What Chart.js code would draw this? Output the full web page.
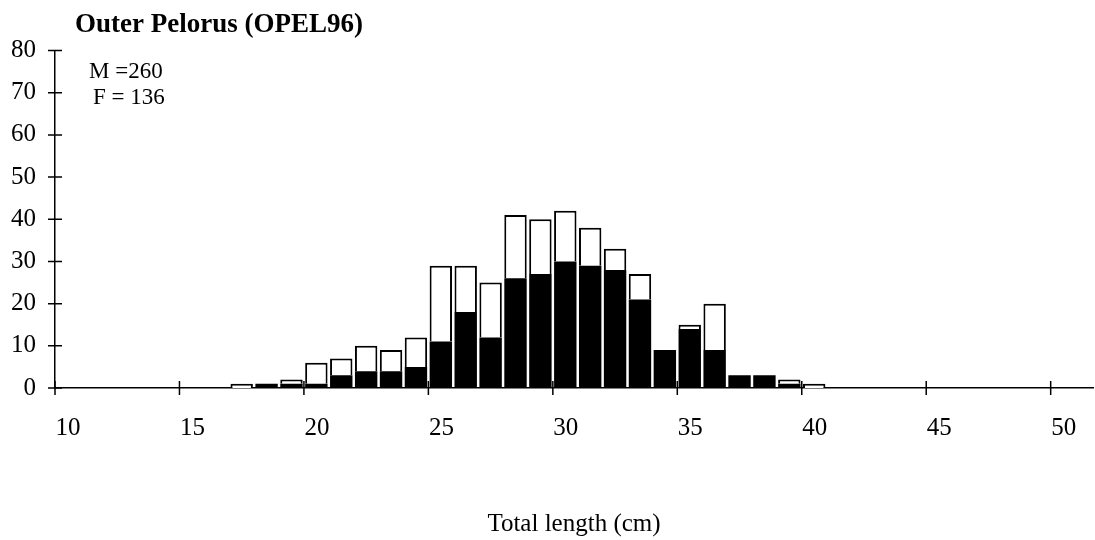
<!DOCTYPE html>
<html>
<head>
<meta charset="utf-8">
<script src="https://cdn.jsdelivr.net/npm/chart.js@4/dist/chart.umd.min.js"></script>
<style>
  html, body { margin: 0; padding: 0; background: #fff; }
  #wrap { width: 1095px; height: 540px; position: relative; }
</style>
</head>
<body>
<div id="wrap"><canvas id="lengthChart"></canvas></div>
<script>
// length classes (lower bound of each 1 cm bin)
const bins = [17, 18, 19, 20, 21, 22, 23, 24, 25, 26, 27, 28, 29, 30, 31, 32, 33, 34, 35, 36, 37, 38, 39, 40];
// black part of each bar
const males = [0, 1, 1, 1, 3, 4, 4, 5, 11, 18, 12, 26, 27, 30, 29, 28, 21, 9, 14, 9, 3, 3, 1, 0];
// white part stacked on top
const females = [1, 0, 1, 5, 4, 6, 5, 7, 18, 11, 13, 15, 13, 12, 9, 5, 6, 0, 1, 11, 0, 0, 1, 1];

const xTicks = [10, 15, 20, 25, 30, 35, 40, 45, 50];
const yTicks = [0, 10, 20, 30, 40, 50, 60, 70, 80];

const chartTitle = "Outer Pelorus (OPEL96)";
const sampleNote = ["M =260", "F = 136"];
const xTitle = "Total length (cm)";

const SERIF = '"Liberation Serif", "Times New Roman", serif';

// bars sit in the middle of their 1 cm class
function toPoints(values) {
  return bins.map((b, i) => ({ x: b + 0.5, y: values[i] === 0 ? null : values[i] }));
}

// title, M/F note and tick marks that cross the axes
const extras = {
  id: "extras",
  afterDraw(chart) {
    const { ctx, chartArea } = chart;
    const xs = chart.scales.x;
    const ys = chart.scales.y;
    ctx.save();
    ctx.strokeStyle = "#000";
    ctx.lineWidth = 1.5;
    ctx.beginPath();
    xs.ticks.forEach(t => {
      const px = xs.getPixelForValue(t.value);
      ctx.moveTo(px, chartArea.bottom - 7);
      ctx.lineTo(px, chartArea.bottom + 7);
    });
    ys.ticks.forEach(t => {
      const py = ys.getPixelForValue(t.value);
      ctx.moveTo(chartArea.left - 7, py);
      ctx.lineTo(chartArea.left + 7, py);
    });
    ctx.stroke();

    ctx.fillStyle = "#000";
    ctx.textBaseline = "alphabetic";
    ctx.textAlign = "left";
    ctx.font = "bold 27px " + SERIF;
    ctx.fillText(chartTitle, chartArea.left + 20, 32);
    ctx.font = "23px " + SERIF;
    ctx.fillText(sampleNote[0], chartArea.left + 34, 78);
    ctx.fillText(sampleNote[1], chartArea.left + 38, 104);
    ctx.restore();
  }
};

new Chart(document.getElementById("lengthChart"), {
  type: "bar",
  data: {
    datasets: [
      {
        label: "M",
        data: toPoints(males),
        backgroundColor: "#000",
        borderWidth: 0,
        barPercentage: 0.9,
        categoryPercentage: 1
      },
      {
        label: "F",
        data: toPoints(females),
        backgroundColor: "#fff",
        borderColor: "#000",
        borderWidth: 2,
        borderSkipped: "bottom",
        barPercentage: 0.9,
        categoryPercentage: 1
      }
    ]
  },
  options: {
    responsive: true,
    maintainAspectRatio: false,
    animation: false,
    layout: { padding: { top: 50.5, right: 2, left: 0, bottom: 0 } },
    plugins: {
      legend: { display: false },
      tooltip: { enabled: false }
    },
    scales: {
      x: {
        type: "linear",
        stacked: true,
        offset: false,
        min: 10,
        max: 51.7,
        afterBuildTicks: s => { s.ticks = xTicks.map(v => ({ value: v })); },
        afterFit: s => { s.height = 152; },
        grid: { display: false, drawTicks: false },
        border: { display: true, color: "#000", width: 1.5 },
        ticks: {
          color: "#000",
          font: { family: SERIF, size: 25 },
          padding: 25,
          labelOffset: 13,
          maxRotation: 0
        },
        title: {
          display: true,
          text: xTitle,
          color: "#000",
          font: { family: SERIF, size: 25 },
          padding: { top: 0, bottom: 1 }
        }
      },
      y: {
        stacked: true,
        min: 0,
        max: 80,
        afterBuildTicks: s => { s.ticks = yTicks.map(v => ({ value: v })); },
        afterFit: s => { s.width = 55; },
        grid: { display: false, drawTicks: false },
        border: { display: true, color: "#000", width: 1.5 },
        ticks: {
          color: "#000",
          font: { family: SERIF, size: 25 },
          padding: 19
        }
      }
    }
  },
  plugins: [extras]
});
</script>
</body>
</html>
